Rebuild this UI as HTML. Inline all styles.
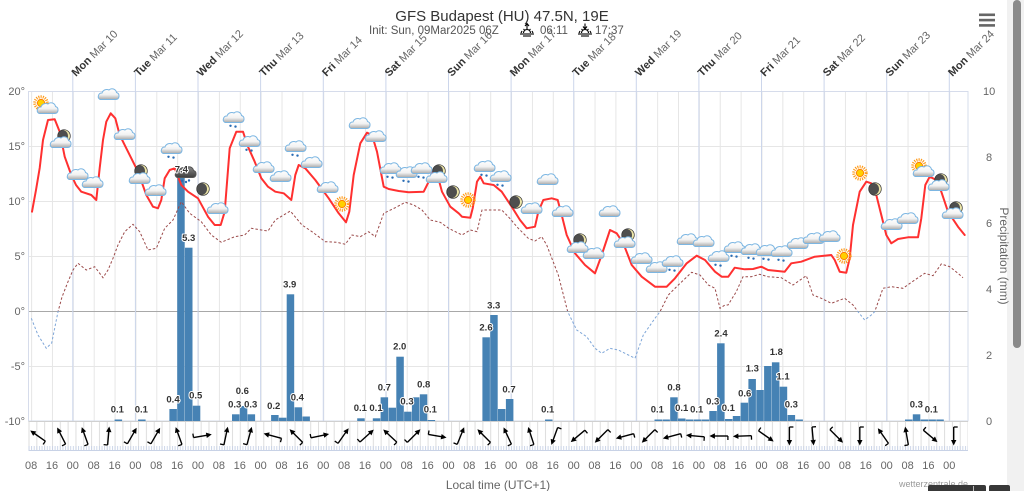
<!DOCTYPE html>
<html><head><meta charset="utf-8"><style>
html,body{margin:0;padding:0;background:#fff;overflow:hidden}
svg{display:block;font-family:"Liberation Sans",sans-serif}
</style></head><body>
<svg width="1024" height="491" viewBox="0 0 1024 491" xmlns="http://www.w3.org/2000/svg">
<defs>
<linearGradient id="cg" x1="0" y1="0" x2="0" y2="1"><stop offset="0" stop-color="#ffffff"/><stop offset="0.55" stop-color="#f2f2f2"/><stop offset="1" stop-color="#a8a8a8"/></linearGradient>
<linearGradient id="dg" x1="0" y1="0" x2="0" y2="1"><stop offset="0" stop-color="#8a8a8a"/><stop offset="1" stop-color="#3c3c3c"/></linearGradient>
<path id="cp" d="M-8,5.5 H8 A3.6,3.6 0 0 0 8.5,-1.5 A4.5,4.5 0 0 0 1,-4 A5,5 0 0 0 -6,-1 A3.5,3.5 0 0 0 -8,5.5 Z"/>
<g id="cl"><use href="#cp" fill="url(#cg)" stroke="#7cb6e2" stroke-width="1"/></g>
<g id="rn"><use href="#cl"/><circle cx="-2.5" cy="8.8" r="1.2" fill="#2a6db5"/><circle cx="2.5" cy="9.6" r="1.2" fill="#2a6db5"/></g>
<g id="dk"><use href="#cp" fill="url(#dg)" stroke="#555" stroke-width="1"/><circle cx="-3" cy="8.8" r="1.2" fill="#2a6db5"/><circle cx="1" cy="10" r="1.2" fill="#2a6db5"/><circle cx="4" cy="8.5" r="1.2" fill="#2a6db5"/></g>
<g id="sn"><circle r="6.2" fill="none" stroke="#ff9a1a" stroke-width="3" stroke-dasharray="1.1 1.1"/><circle r="3.6" fill="#ffd000" stroke="#ff8000" stroke-width="1"/></g>
<clipPath id="mcp"><circle r="6.3"/></clipPath>
<g id="mn"><circle r="6.3" fill="#ece5a8"/><circle cx="-2.3" r="6.3" fill="#4e4e4e" clip-path="url(#mcp)"/><circle r="6.3" fill="none" stroke="#333" stroke-width="0.7"/></g>
<g id="ar"><line x1="0" y1="9" x2="0" y2="-5" stroke="#000" stroke-width="1.4"/><polygon points="0,-9.5 -2.7,-4 2.7,-4" fill="#000"/><line x1="0" y1="9" x2="-4" y2="9" stroke="#000" stroke-width="1.3"/></g>
<pattern id="g8" x="31.1" y="0" width="20.868" height="491" patternUnits="userSpaceOnUse"><line x1="0.5" y1="0" x2="0.5" y2="491" stroke="#e6e6e6" stroke-width="1"/></pattern>
<pattern id="g3" x="28.5" y="0" width="7.8255" height="491" patternUnits="userSpaceOnUse"><line x1="0.5" y1="0" x2="0.5" y2="491" stroke="#dedede" stroke-width="1"/></pattern>
<pattern id="g1" x="28.5" y="0" width="2.6085" height="491" patternUnits="userSpaceOnUse"><line x1="0.5" y1="0" x2="0.5" y2="491" stroke="#c8d2e6" stroke-width="0.9"/></pattern>
<clipPath id="above"><rect x="0" y="0" width="1024" height="311"/></clipPath>
<clipPath id="below"><rect x="0" y="311" width="1024" height="180"/></clipPath>
<polyline id="dp" points="31.3,318.3 38,335 46.3,348.3 51.7,343 58,311.7 62,297 68,281.7 73,270 78,263.3 86.3,270 94.7,266.7 103,277.7 108,270 113,258.3 118,245 124.7,231.7 133,224.3 139.7,231.7 148,250 156.3,248.3 164.7,228.3 173,220 181.3,201.7 189.7,213.3 201.3,221.7 211.3,235 221.3,242.3 234.7,236.7 244.7,235 251.3,228.3 261.3,230 268,231 275.3,220 290.3,211 302,225 312,231.7 325.3,241.7 337,242.3 345.3,244.3 352,235 360.3,236.7 368.7,231.7 375.3,236.7 383.7,213.3 395.3,207.7 405.3,202.3 413.7,205 422,210 430.3,220 440.3,222.3 448.7,228.3 462,235 470.3,230 477,231.7 482,210 492,210 501.7,210 508.3,216.7 518.3,228.3 528.3,238.3 535,241 541.7,236.7 546.7,245 558.3,275 567.7,311.7 576.7,330 586.7,336.7 595,348.3 601.7,353.3 610,348.3 618.3,350 628.3,355 635,358.3 643.3,335 655,318.3 660,311.7 668.3,295 678.3,285 691.7,272.3 700,275 708.3,285 715,288.3 720,308.3 725,305 728,305 736.3,291.7 743,276.7 751.3,276.7 759.7,274.3 768,276.7 781.3,277.7 793,285 806.3,275.7 813,295 821.3,298.3 831.3,303.3 844.7,298.3 853,305 858,311.7 864.7,320 871.3,315 874.7,311.7 883,288.3 891.3,286.7 903,288.3 914.7,280 924.7,273.3 933,275.7 941.3,264 949.7,266.7 958,273.3 963,277.7"/>
</defs>

<!-- scrollbar area -->
<rect x="1007" y="0" width="17" height="491" fill="#f1f1f1"/>
<rect x="1013" y="0" width="8" height="348" rx="4" fill="#8a8a8a"/>

<!-- title -->
<text x="502" y="21" text-anchor="middle" font-size="15" fill="#333">GFS Budapest (HU) 47.5N, 19E</text>
<text x="369" y="34" font-size="11.5" fill="#555">Init: Sun, 09Mar2025 06Z</text>
<g transform="translate(527,34)" stroke="#000" fill="none" stroke-width="1.1">
<line x1="-7" y1="0" x2="7" y2="0"/><line x1="-4" y1="2" x2="4" y2="2"/><path d="M-3.5,-1 A3.5,3.5 0 0 1 3.5,-1"/><line x1="-6" y1="-1" x2="-5" y2="-3"/><line x1="6" y1="-1" x2="5" y2="-3"/><line x1="-3.5" y1="-5" x2="-2.5" y2="-4"/><line x1="3.5" y1="-5" x2="2.5" y2="-4"/><line x1="0" y1="-5" x2="0" y2="-10"/><polyline points="-2,-8 0,-10.5 2,-8" />
</g>
<text x="540" y="34" font-size="11.5" fill="#555">06:11</text>
<g transform="translate(585,34)" stroke="#000" fill="none" stroke-width="1.1">
<line x1="-7" y1="0" x2="7" y2="0"/><line x1="-4" y1="2" x2="4" y2="2"/><path d="M-3.5,-1 A3.5,3.5 0 0 1 3.5,-1"/><line x1="-6" y1="-1" x2="-5" y2="-3"/><line x1="6" y1="-1" x2="5" y2="-3"/><line x1="-3.5" y1="-5" x2="-2.5" y2="-4"/><line x1="3.5" y1="-5" x2="2.5" y2="-4"/><line x1="0" y1="-10.5" x2="0" y2="-5"/><polyline points="-2,-7.5 0,-5 2,-7.5" />
</g>
<text x="595" y="34" font-size="11.5" fill="#555">17:37</text>

<!-- hamburger -->
<rect x="979" y="13.5" width="16" height="2.6" fill="#666"/>
<rect x="979" y="18.8" width="16" height="2.6" fill="#666"/>
<rect x="979" y="24.1" width="16" height="2.6" fill="#666"/>

<!-- plot grid -->
<rect x="28.5" y="91" width="939.5" height="330" fill="url(#g8)"/>
<rect x="28.5" y="421" width="939.5" height="29" fill="url(#g3)"/>
<rect x="28.5" y="446" width="939.5" height="4" fill="url(#g1)"/>
<line x1="28.5" y1="450.5" x2="968" y2="450.5" stroke="#c8d2e6" stroke-width="1"/>
<g stroke="#e6e6e6" stroke-width="1">
<line x1="28.5" y1="146.5" x2="968" y2="146.5"/>
<line x1="28.5" y1="201.5" x2="968" y2="201.5"/>
<line x1="28.5" y1="256.5" x2="968" y2="256.5"/>
<line x1="28.5" y1="366.5" x2="968" y2="366.5"/>
</g>
<line x1="28.5" y1="311.5" x2="968" y2="311.5" stroke="#a8a8a8" stroke-width="1"/>
<rect x="28.5" y="91.5" width="939.5" height="329.5" fill="none" stroke="#d6dceb" stroke-width="1"/>
<line x1="28.5" y1="421.5" x2="968" y2="421.5" stroke="#d0d0d0" stroke-width="1"/>

<!-- day lines -->
<g stroke="#ccd6eb" stroke-width="1">
<line x1="72.8" y1="72" x2="72.8" y2="421"/>
<line x1="135.4" y1="72" x2="135.4" y2="421"/>
<line x1="198" y1="72" x2="198" y2="421"/>
<line x1="260.6" y1="72" x2="260.6" y2="421"/>
<line x1="323.3" y1="72" x2="323.3" y2="421"/>
<line x1="385.9" y1="72" x2="385.9" y2="421"/>
<line x1="448.5" y1="72" x2="448.5" y2="421"/>
<line x1="511.1" y1="72" x2="511.1" y2="421"/>
<line x1="573.7" y1="72" x2="573.7" y2="421"/>
<line x1="636.3" y1="72" x2="636.3" y2="421"/>
<line x1="698.9" y1="72" x2="698.9" y2="421"/>
<line x1="761.5" y1="72" x2="761.5" y2="421"/>
<line x1="824.1" y1="72" x2="824.1" y2="421"/>
<line x1="886.7" y1="72" x2="886.7" y2="421"/>
<line x1="949.3" y1="72" x2="949.3" y2="421"/>
</g>

<!-- day labels -->
<g font-size="11" fill="#666">
<text transform="translate(76,77) rotate(-45)"><tspan font-weight="bold" fill="#333">Mon</tspan> Mar 10</text>
<text transform="translate(138.6,77) rotate(-45)"><tspan font-weight="bold" fill="#333">Tue</tspan> Mar 11</text>
<text transform="translate(201.2,77) rotate(-45)"><tspan font-weight="bold" fill="#333">Wed</tspan> Mar 12</text>
<text transform="translate(263.8,77) rotate(-45)"><tspan font-weight="bold" fill="#333">Thu</tspan> Mar 13</text>
<text transform="translate(326.5,77) rotate(-45)"><tspan font-weight="bold" fill="#333">Fri</tspan> Mar 14</text>
<text transform="translate(389.1,77) rotate(-45)"><tspan font-weight="bold" fill="#333">Sat</tspan> Mar 15</text>
<text transform="translate(451.7,77) rotate(-45)"><tspan font-weight="bold" fill="#333">Sun</tspan> Mar 16</text>
<text transform="translate(514.3,77) rotate(-45)"><tspan font-weight="bold" fill="#333">Mon</tspan> Mar 17</text>
<text transform="translate(576.9,77) rotate(-45)"><tspan font-weight="bold" fill="#333">Tue</tspan> Mar 18</text>
<text transform="translate(639.5,77) rotate(-45)"><tspan font-weight="bold" fill="#333">Wed</tspan> Mar 19</text>
<text transform="translate(702.1,77) rotate(-45)"><tspan font-weight="bold" fill="#333">Thu</tspan> Mar 20</text>
<text transform="translate(764.7,77) rotate(-45)"><tspan font-weight="bold" fill="#333">Fri</tspan> Mar 21</text>
<text transform="translate(827.3,77) rotate(-45)"><tspan font-weight="bold" fill="#333">Sat</tspan> Mar 22</text>
<text transform="translate(889.9,77) rotate(-45)"><tspan font-weight="bold" fill="#333">Sun</tspan> Mar 23</text>
<text transform="translate(952.5,77) rotate(-45)"><tspan font-weight="bold" fill="#333">Mon</tspan> Mar 24</text>
</g>

<!-- left axis -->
<g font-size="11" fill="#666" text-anchor="end">
<text x="25" y="95">20°</text>
<text x="25" y="150">15°</text>
<text x="25" y="205">10°</text>
<text x="25" y="260">5°</text>
<text x="25" y="315">0°</text>
<text x="25" y="370">-5°</text>
<text x="25" y="425">-10°</text>
</g>
<!-- right axis -->
<g font-size="11" fill="#666">
<text x="983" y="95">10</text>
<text x="986" y="161">8</text>
<text x="986" y="227">6</text>
<text x="986" y="293">4</text>
<text x="986" y="359">2</text>
<text x="986" y="425">0</text>
</g>
<text transform="translate(1000,256) rotate(90)" text-anchor="middle" font-size="12" fill="#666">Precipitation (mm)</text>

<!-- precipitation bars -->
<g fill="#4682b4">
<rect x="114.6" y="419.5" width="7.5" height="1.5"/>
<rect x="138.1" y="419.5" width="7.5" height="1.5"/>
<rect x="169.4" y="409" width="7.5" height="12"/>
<rect x="177.2" y="175" width="7.5" height="246"/>
<rect x="185" y="247.7" width="7.5" height="173.3"/>
<rect x="192.8" y="405.7" width="7.5" height="15.3"/>
<rect x="232" y="414.3" width="7.5" height="6.7"/>
<rect x="239.8" y="406" width="7.5" height="15"/>
<rect x="247.6" y="414.3" width="7.5" height="6.7"/>
<rect x="271.1" y="415" width="7.5" height="6"/>
<rect x="278.9" y="417.7" width="7.5" height="3.3"/>
<rect x="286.7" y="294.3" width="7.5" height="126.7"/>
<rect x="294.6" y="407.3" width="7.5" height="13.7"/>
<rect x="302.4" y="416.5" width="7.5" height="4.5"/>
<rect x="357.2" y="418.3" width="7.5" height="2.7"/>
<rect x="372.8" y="418.3" width="7.5" height="2.7"/>
<rect x="380.6" y="397.3" width="7.5" height="23.7"/>
<rect x="388.5" y="407.7" width="7.5" height="13.3"/>
<rect x="396.3" y="356.7" width="7.5" height="64.3"/>
<rect x="404.1" y="411.7" width="7.5" height="9.3"/>
<rect x="411.9" y="397.3" width="7.5" height="23.7"/>
<rect x="419.8" y="394.3" width="7.5" height="26.7"/>
<rect x="427.6" y="420" width="7.5" height="1"/>
<rect x="482.4" y="337.3" width="7.5" height="83.7"/>
<rect x="490.2" y="315" width="7.5" height="106"/>
<rect x="498" y="409" width="7.5" height="12"/>
<rect x="505.9" y="399" width="7.5" height="22"/>
<rect x="545" y="419.5" width="7.5" height="1.5"/>
<rect x="654.5" y="419.5" width="7.5" height="1.5"/>
<rect x="662.4" y="419.5" width="7.5" height="1.5"/>
<rect x="670.2" y="397.3" width="7.5" height="23.7"/>
<rect x="678" y="418.5" width="7.5" height="2.5"/>
<rect x="685.8" y="419.5" width="7.5" height="1.5"/>
<rect x="693.7" y="419.5" width="7.5" height="1.5"/>
<rect x="701.5" y="419.5" width="7.5" height="1.5"/>
<rect x="709.3" y="411" width="7.5" height="10"/>
<rect x="717.1" y="343.3" width="7.5" height="77.7"/>
<rect x="725" y="419" width="7.5" height="2"/>
<rect x="732.8" y="416" width="7.5" height="5"/>
<rect x="740.6" y="402.7" width="7.5" height="18.3"/>
<rect x="748.4" y="379" width="7.5" height="42"/>
<rect x="756.3" y="390" width="7.5" height="31"/>
<rect x="764.1" y="366" width="7.5" height="55"/>
<rect x="771.9" y="362.3" width="7.5" height="58.7"/>
<rect x="779.7" y="386.7" width="7.5" height="34.3"/>
<rect x="787.6" y="415" width="7.5" height="6"/>
<rect x="795.4" y="419.5" width="7.5" height="1.5"/>
<rect x="905" y="419.5" width="7.5" height="1.5"/>
<rect x="912.8" y="414.3" width="7.5" height="6.7"/>
<rect x="920.6" y="419.5" width="7.5" height="1.5"/>
<rect x="928.4" y="419.5" width="7.5" height="1.5"/>
<rect x="936.3" y="419.5" width="7.5" height="1.5"/>
</g>

<!-- dew point -->
<g fill="none" stroke-width="1" stroke-dasharray="2.5 2">
<use href="#dp" clip-path="url(#above)" stroke="#9b4a4a"/>
<use href="#dp" clip-path="url(#below)" stroke="#7ea6d8"/>
</g>

<!-- temperature -->
<polyline fill="none" stroke="#ff3030" stroke-width="2" stroke-linejoin="round" stroke-linecap="round" points="32,211.7 36,190 39.7,168 43,140 48,120 54.7,119.3 59.7,131.7 64.7,156.7 71.3,175 76,185 81.3,191.7 91.3,195 96.3,200 99.7,168 103,140 106.3,121.7 110.7,113.3 115.3,118.3 119.7,135 128,151.7 138,171.7 146.3,195 153,206.7 158,208.3 161.3,200 164.7,178.3 169.7,170 174.7,168.3 181.3,185 188,191.7 198,198.3 208,216.7 214.7,225 220.7,225 224.7,211.7 229.7,148.3 236.3,131.7 243,131.7 248,146.7 254.7,161.7 261.3,178.3 268,186.7 275.3,191.7 283.7,193.3 291.3,200 295.3,175 298.7,165 305.3,168.3 315.3,180 328.7,198.3 338.7,213.3 346,222.3 349.3,211.7 353.7,175 360.3,143.3 367,132.7 372,135 377,151.7 383.7,186.7 388.7,189 398.7,191 408.7,192.3 423.7,191.7 428.7,181.7 432,172.3 437,173.3 442,191.7 450.3,206.7 458.7,213.3 462,216.7 470.3,217.7 472.7,208.3 477,181.7 480.3,176.7 483.7,183.3 493.7,185 501.7,191.7 511.7,206.7 520,220 526.7,228.3 535,226.7 538.3,211.7 543.3,200 551.7,198.3 557.7,200 561.7,215 566.7,235 575,253.3 585,265 595,273.3 601.7,255 610,230 616.7,233.3 623.3,243.3 631.7,265 641.7,276.7 655,286.7 666.7,286.7 675,278.3 686.7,263.3 696.7,255.7 705,260 715,271.7 721.7,276.7 728.3,276.7 734.7,267.7 744.7,269.3 753,269 761.3,266.7 768,270 784.7,271.7 791.3,263.3 801.3,261.7 814.7,256.7 831.3,255 834.7,260 839.7,271.7 846.3,272.7 849.7,258.3 853,225 859.7,191.7 866.3,181.7 871.3,183.3 876.3,195 881.3,215 886.3,235 891.3,243.3 898,239 908,237.3 918,237.3 921.3,218.3 925.3,185 929.7,176.7 936.3,180 941.3,191.7 948,211.7 958,226.7 964.7,235"/>

<!-- weather icons -->
<use href="#sn" x="41" y="103"/><use href="#cl" x="47" y="108"/>
<use href="#mn" x="64" y="136"/><use href="#cl" x="60" y="142"/>
<use href="#cl" x="77" y="174"/>
<use href="#cl" x="92" y="182"/>
<use href="#cl" x="108" y="94"/>
<use href="#cl" x="124" y="134"/>
<use href="#mn" x="141" y="171"/><use href="#cl" x="139" y="178"/>
<use href="#cl" x="155" y="190"/>
<use href="#rn" x="171" y="148"/>
<use href="#dk" x="185" y="172"/>
<use href="#mn" x="203" y="189"/>
<use href="#cl" x="217" y="208"/>
<use href="#rn" x="233" y="117"/>
<use href="#rn" x="249" y="141"/>
<use href="#cl" x="263" y="167"/>
<use href="#cl" x="280" y="176"/>
<use href="#rn" x="295" y="146"/>
<use href="#cl" x="311" y="162"/>
<use href="#cl" x="327" y="187"/>
<use href="#sn" x="342" y="204"/>
<use href="#cl" x="359" y="123"/>
<use href="#cl" x="375" y="136"/>
<use href="#rn" x="390" y="168"/>
<use href="#rn" x="406" y="172"/>
<use href="#rn" x="421" y="168"/>
<use href="#mn" x="439" y="171"/><use href="#cl" x="436" y="177"/>
<use href="#mn" x="453" y="192"/>
<use href="#sn" x="468" y="200"/>
<use href="#rn" x="484" y="166"/>
<use href="#rn" x="500" y="176"/>
<use href="#mn" x="516" y="202"/>
<use href="#cl" x="531" y="208"/>
<use href="#cl" x="547" y="179"/>
<use href="#cl" x="562" y="211"/>
<use href="#mn" x="580" y="240"/><use href="#cl" x="577" y="247"/>
<use href="#cl" x="593" y="253"/>
<use href="#cl" x="609" y="211"/>
<use href="#mn" x="628" y="235"/><use href="#cl" x="624" y="242"/>
<use href="#cl" x="641" y="258"/>
<use href="#cl" x="656" y="267"/>
<use href="#rn" x="672" y="261"/>
<use href="#cl" x="687" y="239"/>
<use href="#cl" x="703" y="241"/>
<use href="#rn" x="718" y="256"/>
<use href="#rn" x="734" y="247"/>
<use href="#rn" x="751" y="249"/>
<use href="#rn" x="766" y="250"/>
<use href="#rn" x="781" y="251"/>
<use href="#cl" x="797" y="243"/>
<use href="#cl" x="813" y="238"/>
<use href="#cl" x="829" y="236"/>
<use href="#sn" x="844" y="256"/>
<use href="#sn" x="860" y="173"/>
<use href="#mn" x="875" y="189"/>
<use href="#cl" x="891" y="224"/>
<use href="#cl" x="907" y="218"/>
<use href="#sn" x="919" y="166"/><use href="#cl" x="923" y="171"/>
<use href="#mn" x="941" y="180"/><use href="#cl" x="938" y="185"/>
<use href="#mn" x="956" y="208"/><use href="#cl" x="952" y="213"/>

<!-- bar labels -->
<g font-size="9.5" font-weight="bold" fill="#333" text-anchor="middle" stroke="#fff" stroke-width="2" paint-order="stroke" stroke-linejoin="round">
<text x="117.3" y="412.5">0.1</text>
<text x="141.3" y="412.5">0.1</text>
<text x="173" y="402.5">0.4</text>
<text x="181.3" y="172.5">7.4</text>
<text x="188.7" y="241">5.3</text>
<text x="195.7" y="398.5">0.5</text>
<text x="242.3" y="394">0.6</text>
<text x="234.7" y="407.5">0.3</text>
<text x="250.7" y="407.5">0.3</text>
<text x="273.7" y="409">0.2</text>
<text x="289.7" y="287.5">3.9</text>
<text x="297.3" y="400.5">0.4</text>
<text x="360.3" y="411">0.1</text>
<text x="376" y="411">0.1</text>
<text x="384.3" y="390.5">0.7</text>
<text x="399.7" y="349.5">2.0</text>
<text x="407" y="404.5">0.3</text>
<text x="423.7" y="387.5">0.8</text>
<text x="430.3" y="412.5">0.1</text>
<text x="486" y="330.5">2.6</text>
<text x="493.7" y="308.5">3.3</text>
<text x="509" y="392.5">0.7</text>
<text x="547.7" y="412.5">0.1</text>
<text x="657.3" y="412.5">0.1</text>
<text x="674" y="390.5">0.8</text>
<text x="681.7" y="411">0.1</text>
<text x="696.7" y="412.5">0.1</text>
<text x="712.7" y="404.5">0.3</text>
<text x="721" y="336.5">2.4</text>
<text x="728.3" y="411">0.1</text>
<text x="744.7" y="396.5">0.6</text>
<text x="752.3" y="371.5">1.3</text>
<text x="776.3" y="355">1.8</text>
<text x="783" y="379.5">1.1</text>
<text x="791.3" y="407.5">0.3</text>
<text x="916.3" y="407.5">0.3</text>
<text x="931.3" y="412.5">0.1</text>
</g>

<!-- wind arrows -->
<use href="#ar" transform="translate(38,436) rotate(-55)"/>
<use href="#ar" transform="translate(61.5,436) rotate(-27)"/>
<use href="#ar" transform="translate(85,436) rotate(-20)"/>
<use href="#ar" transform="translate(108.4,436) rotate(5)"/>
<use href="#ar" transform="translate(131.9,436) rotate(30)"/>
<use href="#ar" transform="translate(155.4,436) rotate(30)"/>
<use href="#ar" transform="translate(178.9,436) rotate(-20)"/>
<use href="#ar" transform="translate(202.4,436) rotate(80)"/>
<use href="#ar" transform="translate(225.8,436) rotate(12)"/>
<use href="#ar" transform="translate(249.3,436) rotate(15)"/>
<use href="#ar" transform="translate(272.8,436) rotate(-75)"/>
<use href="#ar" transform="translate(296.3,436) rotate(-45)"/>
<use href="#ar" transform="translate(319.8,436) rotate(78)"/>
<use href="#ar" transform="translate(343.2,436) rotate(35)"/>
<use href="#ar" transform="translate(366.7,436) rotate(48)"/>
<use href="#ar" transform="translate(390.2,436) rotate(-47)"/>
<use href="#ar" transform="translate(413.7,436) rotate(45)"/>
<use href="#ar" transform="translate(437.2,436) rotate(100)"/>
<use href="#ar" transform="translate(460.6,436) rotate(22)"/>
<use href="#ar" transform="translate(484.1,436) rotate(-45)"/>
<use href="#ar" transform="translate(507.6,436) rotate(-25)"/>
<use href="#ar" transform="translate(531.1,436) rotate(-18)"/>
<use href="#ar" transform="translate(554.6,436) rotate(-160)"/>
<use href="#ar" transform="translate(578,436) rotate(-130)"/>
<use href="#ar" transform="translate(601.5,436) rotate(-135)"/>
<use href="#ar" transform="translate(625,436) rotate(-105)"/>
<use href="#ar" transform="translate(648.5,436) rotate(-135)"/>
<use href="#ar" transform="translate(672,436) rotate(-105)"/>
<use href="#ar" transform="translate(695.4,436) rotate(-85)"/>
<use href="#ar" transform="translate(718.9,436) rotate(-90)"/>
<use href="#ar" transform="translate(742.4,436) rotate(-92)"/>
<use href="#ar" transform="translate(765.9,436) rotate(125)"/>
<use href="#ar" transform="translate(789.4,436) rotate(180)"/>
<use href="#ar" transform="translate(812.8,436) rotate(175)"/>
<use href="#ar" transform="translate(836.3,436) rotate(135)"/>
<use href="#ar" transform="translate(859.8,436) rotate(180)"/>
<use href="#ar" transform="translate(883.3,436) rotate(-35)"/>
<use href="#ar" transform="translate(906.8,436) rotate(-10)"/>
<use href="#ar" transform="translate(930.2,436) rotate(130)"/>
<use href="#ar" transform="translate(953.7,436) rotate(180)"/>

<!-- bottom time labels -->
<g font-size="11" fill="#666" text-anchor="middle">
<text x="31.1" y="469">08</text><text x="52" y="469">16</text><text x="72.8" y="469">00</text>
<text x="93.7" y="469">08</text><text x="114.6" y="469">16</text><text x="135.4" y="469">00</text>
<text x="156.3" y="469">08</text><text x="177.2" y="469">16</text><text x="198" y="469">00</text>
<text x="218.9" y="469">08</text><text x="239.8" y="469">16</text><text x="260.6" y="469">00</text>
<text x="281.5" y="469">08</text><text x="302.4" y="469">16</text><text x="323.3" y="469">00</text>
<text x="344.1" y="469">08</text><text x="365" y="469">16</text><text x="385.9" y="469">00</text>
<text x="406.7" y="469">08</text><text x="427.6" y="469">16</text><text x="448.5" y="469">00</text>
<text x="469.3" y="469">08</text><text x="490.2" y="469">16</text><text x="511.1" y="469">00</text>
<text x="531.9" y="469">08</text><text x="552.8" y="469">16</text><text x="573.7" y="469">00</text>
<text x="594.5" y="469">08</text><text x="615.4" y="469">16</text><text x="636.3" y="469">00</text>
<text x="657.1" y="469">08</text><text x="678" y="469">16</text><text x="698.9" y="469">00</text>
<text x="719.7" y="469">08</text><text x="740.6" y="469">16</text><text x="761.5" y="469">00</text>
<text x="782.3" y="469">08</text><text x="803.2" y="469">16</text><text x="824.1" y="469">00</text>
<text x="844.9" y="469">08</text><text x="865.8" y="469">16</text><text x="886.7" y="469">00</text>
<text x="907.6" y="469">08</text><text x="928.4" y="469">16</text><text x="949.3" y="469">00</text>
</g>
<text x="498" y="489" text-anchor="middle" font-size="12" fill="#666">Local time (UTC+1)</text>
<text x="968" y="487" text-anchor="end" font-size="9" fill="#999">wetterzentrale.de</text>

<!-- bottom buttons -->
<rect x="928" y="485" width="58" height="8" rx="2" fill="#383838"/>
<line x1="973.5" y1="486" x2="973.5" y2="491" stroke="#bbb" stroke-width="1"/>
<rect x="989" y="485" width="21" height="8" rx="2" fill="#383838"/>
</svg>
</body></html>
